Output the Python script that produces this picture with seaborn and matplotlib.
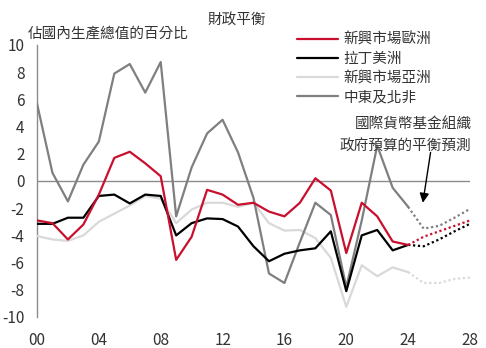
import numpy as np
import pandas as pd
import matplotlib
matplotlib.use("Agg")
import matplotlib.pyplot as plt
import seaborn as sns
from matplotlib.lines import Line2D

sns.set_theme(style="white")
plt.rcParams['font.family'] = ['Noto Sans CJK TC', 'DejaVu Sans']
plt.rcParams['font.weight'] = 'light'

# ---- data ----
years = list(range(2000, 2025))
fc_years = list(range(2024, 2029))

europe = [-2.9, -3.1, -4.3, -3.2, -1.0, 1.7, 2.15, 1.3, 0.35, -5.8, -4.1, -0.65, -1.0,
          -1.75, -1.6, -2.25, -2.6, -1.6, 0.2, -0.7, -5.3, -1.6, -2.6, -4.45, -4.7]
latam = [-3.15, -3.15, -2.7, -2.7, -1.1, -1.0, -1.65, -1.0, -1.1, -4.0, -3.1, -2.75, -2.8,
         -3.35, -4.8, -5.9, -5.35, -5.1, -4.95, -3.7, -8.1, -4.0, -3.6, -5.1, -4.7]
asia = [-4.05, -4.3, -4.4, -4.0, -3.0, -2.4, -1.8, -1.1, -1.3, -3.1, -2.1, -1.6, -1.6,
        -1.9, -1.6, -3.1, -3.65, -3.6, -4.2, -5.65, -9.25, -6.2, -7.0, -6.35, -6.7]
mena = [5.7, 0.6, -1.5, 1.2, 2.9, 7.9, 8.6, 6.5, 8.75, -2.6, 1.0, 3.5, 4.5,
        2.1, -1.25, -6.8, -7.5, -4.5, -1.6, -2.5, -7.8, -2.9, 2.6, -0.5, -1.9]

europe_fc = [-4.7, -4.1, -3.7, -3.3, -2.9]
latam_fc = [-4.7, -4.8, -4.3, -3.7, -3.15]
asia_fc = [-6.7, -7.5, -7.5, -7.2, -7.1]
mena_fc = [-1.9, -3.5, -3.3, -2.7, -2.05]

names = ['新興市場歐洲', '拉丁美洲', '新興市場亞洲', '中東及北非']
colors = {'新興市場歐洲': '#c8102e', '拉丁美洲': '#000000',
          '新興市場亞洲': '#d9d9d9', '中東及北非': '#7f7f7f'}

x_ticks = [2000, 2004, 2008, 2012, 2016, 2020, 2024, 2028]
x_labels = ['00', '04', '08', '12', '16', '20', '24', '28']
y_ticks = list(range(-10, 11, 2))

hist = pd.DataFrame({'year': years * 4,
                     'value': europe + latam + asia + mena,
                     'region': sum([[n] * len(years) for n in names], [])})
fc = pd.DataFrame({'year': fc_years * 4,
                   'value': europe_fc + latam_fc + asia_fc + mena_fc,
                   'region': sum([[n] * len(fc_years) for n in names], [])})

# ---- figure ----
fig = plt.figure(figsize=(4.86, 3.48), dpi=100)
ax = fig.add_axes([0.0761, 0.0891, 0.891, 0.7816])

text_color = '#333333'
ax.axhline(0, color='#8c8c8c', lw=1.0, zorder=1)

draw_order = ['新興市場亞洲', '中東及北非', '拉丁美洲', '新興市場歐洲']
for n in draw_order:
    sub = hist[hist.region == n]
    sns.lineplot(data=sub, x='year', y='value', color=colors[n], lw=1.6,
                 ax=ax, legend=False, zorder=3)
    subf = fc[fc.region == n]
    sns.lineplot(data=subf, x='year', y='value', color=colors[n], lw=1.6,
                 linestyle=(0, (1, 1.2)), ax=ax, legend=False, zorder=3)

ax.set_xlim(2000, 2028)
ax.set_ylim(-10, 10)
ax.set_xticks(x_ticks)
ax.set_xticklabels(x_labels)
ax.set_yticks(y_ticks)
ax.set_yticklabels([str(v) for v in y_ticks])
ax.set_xlabel('')
ax.set_ylabel('')
ax.tick_params(axis='both', length=0, labelsize=11, colors=text_color)
ax.tick_params(axis='y', pad=9)
ax.tick_params(axis='x', pad=11)
for s in ['top', 'right', 'bottom']:
    ax.spines[s].set_visible(False)
ax.spines['left'].set_color('#8c8c8c')
ax.spines['left'].set_linewidth(1.0)

# legend
handles = [Line2D([], [], color=colors[n], lw=1.6) for n in names]
fig.legend(handles, names, loc='upper left', bbox_to_anchor=(0.612, 0.907),
           frameon=False, fontsize=10.5, handlelength=2.8, handletextpad=0.35,
           labelspacing=0.35, labelcolor=text_color, borderaxespad=0, borderpad=0)

# titles
fig.text(0.488, 0.943, '財政平衡', ha='center', va='center', fontsize=10.5, color=text_color)
fig.text(0.058, 0.905, '佔國內生產總值的百分比', ha='left', va='center', fontsize=10.5,
         color=text_color)

# annotation
ax.text(2028.1, 4.1, '國際貨幣基金組織', ha='right', va='center', fontsize=10.5,
        color=text_color)
ax.text(2028.1, 2.6, '政府預算的平衡預測', ha='right', va='center', fontsize=10.5,
        color=text_color)
ax.annotate('', xy=(2024.95, -1.6), xytext=(2025.45, 2.1),
            arrowprops=dict(arrowstyle='-|>', color='black', lw=1.0,
                            mutation_scale=14, shrinkA=0, shrinkB=0))

fig.savefig('out.png', dpi=100, facecolor='white')
